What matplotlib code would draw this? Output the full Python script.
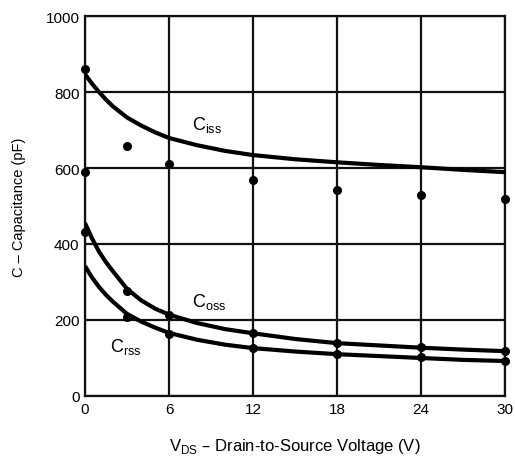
import matplotlib
matplotlib.use("Agg")
import matplotlib.pyplot as plt

plt.rcParams['font.family'] = ['Liberation Sans', 'DejaVu Sans']

# curves (V, pF)
curve_v = [0, 0.5, 1, 1.5, 2, 3, 4, 5, 6, 8, 10, 12, 15, 18, 21, 24, 27, 30]
ciss_curve = [847, 822, 800, 780, 762, 733, 712, 694, 679, 660, 645, 634, 623, 615, 608, 602, 595, 589]
coss_curve = [455, 415, 380, 352, 328, 282, 252, 230, 214, 192, 176, 165, 150, 139, 133, 127, 122, 118]
crss_curve = [342, 312, 287, 266, 248, 216, 196, 180, 166, 148, 135, 126, 117, 110, 105, 100, 95, 92]

# measured points
ciss_pts_v = [0, 0, 3, 6, 12, 18, 24, 30]
ciss_pts = [860, 590, 658, 610, 568, 542, 528, 518]
coss_pts_v = [0, 3, 6, 12, 18, 24, 30]
coss_pts = [431, 277, 213, 165, 139, 128, 118]
crss_pts_v = [3, 6, 12, 18, 24, 30]
crss_pts = [208, 163, 126, 110, 102, 92]

x_ticks = [0, 6, 12, 18, 24, 30]
y_ticks = [0, 200, 400, 600, 800, 1000]

fig = plt.figure(figsize=(5.15, 4.6), dpi=100)
ax = fig.add_axes([0.165, 0.137, 0.816, 0.826])

for c in [ciss_curve, coss_curve, crss_curve]:
    ax.plot(curve_v, c, color='black', lw=3.0, solid_capstyle='butt', zorder=3)
for xs, ys in [(ciss_pts_v, ciss_pts), (coss_pts_v, coss_pts), (crss_pts_v, crss_pts)]:
    ax.plot(xs, ys, 'o', color='black', markersize=5.5, zorder=4, clip_on=False)

ax.set_xlim(0, 30)
ax.set_ylim(0, 1000)
ax.set_xticks(x_ticks)
ax.set_yticks(y_ticks)
ax.grid(True, color='#111111', lw=1.6)
ax.set_axisbelow(True)
for s in ax.spines.values():
    s.set_linewidth(1.6)
    s.set_color('#111111')
ax.tick_params(length=0, labelsize=11, pad=4)

ax.text(8.7, 716, r'C$_{\mathregular{iss}}$', fontsize=13, ha='center', va='center')
ax.text(8.9, 250, r'C$_{\mathregular{oss}}$', fontsize=13, ha='center', va='center')
ax.text(2.9, 132, r'C$_{\mathregular{rss}}$', fontsize=13, ha='center', va='center')

ax.set_xlabel(r'V$_{\mathregular{DS}}$ – Drain-to-Source Voltage (V)', fontsize=12, labelpad=15)
ax.set_ylabel('C – Capacitance (pF)', fontsize=10.5, labelpad=14)

fig.savefig('out.png', dpi=100)
